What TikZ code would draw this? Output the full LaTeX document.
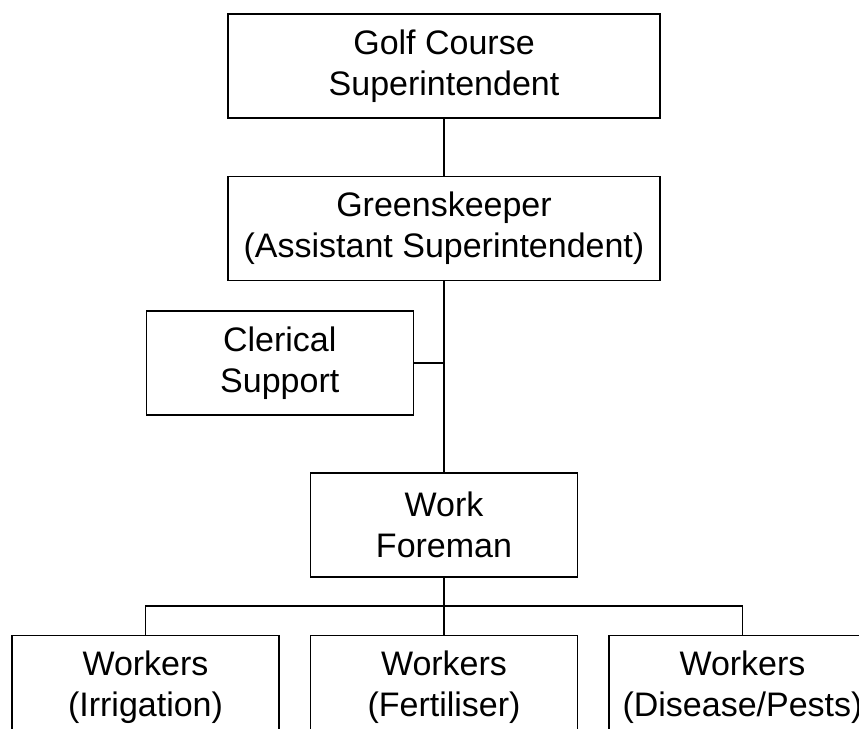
\documentclass[tikz,border=0pt]{standalone}
\usepackage{fontspec}
\setmainfont{Liberation Sans}
\usepackage{tikz}
\usetikzlibrary{positioning}
\tikzset{orgBox/.style={draw, rectangle, minimum width=432pt, minimum height=104pt, inner sep=0pt, align=center, font=\fontsize{34}{41}\selectfont},
  smallBox/.style={orgBox, minimum width=267pt}}

\begin{document}
\begin{tikzpicture}[line width=1.5pt, node distance=57pt]
\useasboundingbox (0,0) rectangle (859pt,-728pt);
\clip (0,0) rectangle (859pt,-728pt);
\node[orgBox] (sup) at (444pt,-66pt) {Golf Course\\Superintendent};
\node[orgBox, below=of sup] (gk) {Greenskeeper\\(Assistant Superintendent)};
\node[smallBox, below left=29pt and 30pt of gk.south] (cler) {Clerical\\Support};
\node[smallBox, below=191pt of gk] (fore) {Work\\Foreman};
\node[smallBox, below=of fore] (wFert) {Workers\\(Fertiliser)};
\node[smallBox, left=30pt of wFert] (wIrr) {Workers\\(Irrigation)};
\node[smallBox, right=30pt of wFert] (wDis) {Workers\\(Disease/Pests)};
\draw (sup) -- (gk);
\draw (gk) -- (fore);
\draw (cler.east) -- (cler.east -| gk.south);
\draw (fore.south) -- ++(0,-28pt) coordinate (bus);
\draw (wIrr.north) |- (bus) -| (wDis.north);
\draw (bus) -- (wFert.north);
\end{tikzpicture}
\end{document}
